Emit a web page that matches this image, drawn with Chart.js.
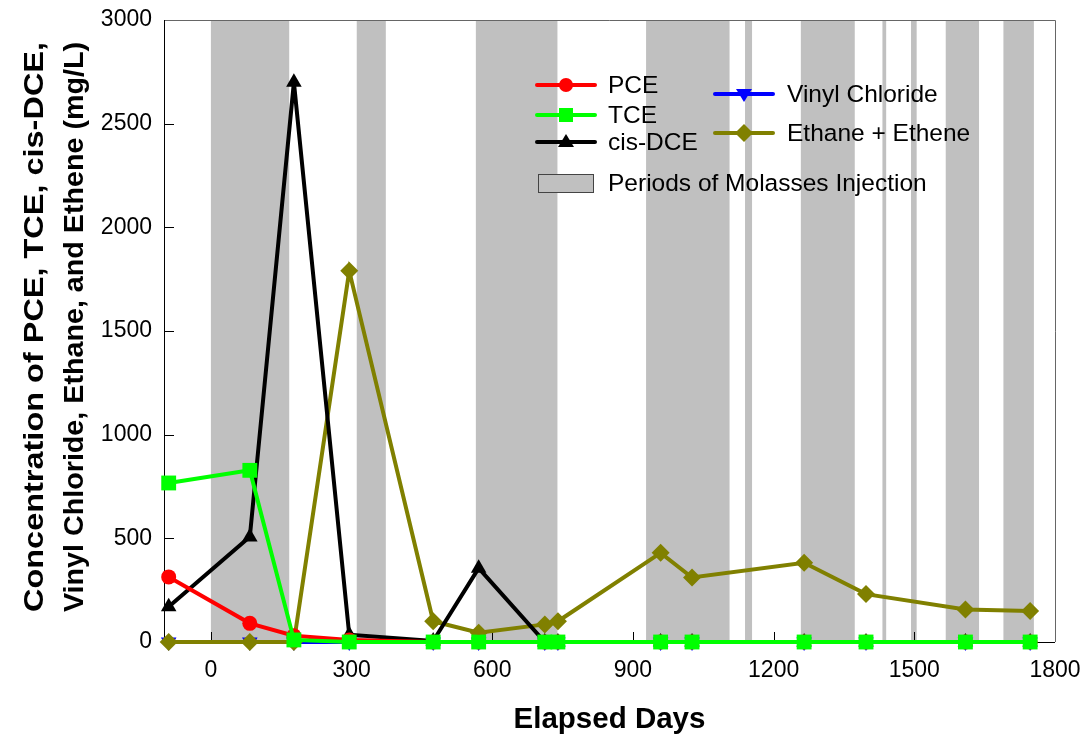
<!DOCTYPE html>
<html>
<head>
<meta charset="utf-8">
<script src="https://cdn.jsdelivr.net/npm/chart.js@4.4.1/dist/chart.umd.min.js"></script>
<style>
  html, body { margin: 0; padding: 0; background: #fff; }
  #wrap { width: 1087px; height: 738px; }
</style>
</head>
<body>
<div id="wrap"><canvas id="c" width="1087" height="738"></canvas></div>
<script>
// elapsed days of each sampling event
const days = [-90, 83, 177, 295, 474, 571, 712, 740, 959, 1026, 1265, 1397, 1609, 1747];

const pce    = [314, 90, 30, 10, 0, 0, 0, 0, 0, 0, 0, 0, 0, 0];
const tce    = [767, 828, 10, 0, 0, 0, 0, 0, 0, 0, 0, 0, 0, 0];
const cisDce = [170, 507, 2700, 35, 5, 356, 0, 0, 0, 0, 0, 0, 0, 0];
const vinyl  = [0, 0, 0, 0, 0, 0, 0, 0, 0, 0, 0, 0, 0, 0];
const ethane = [0, 0, 0, 1790, 100, 45, 85, 100, 430, 311, 382, 231, 157, 149];

// molasses injection periods [start, end] in days
const injections = [
  [0, 167], [311, 373], [565, 739], [928, 1106], [1139, 1154],
  [1258, 1373], [1432, 1440], [1493, 1505], [1567, 1638], [1690, 1755]
];

const xTicks = [0, 300, 600, 900, 1200, 1500, 1800];
const yTicks = [0, 500, 1000, 1500, 2000, 2500, 3000];

const FONT = '"Liberation Sans", Arial, sans-serif';

function pts(vals) {
  return days.map((d, i) => ({ x: d, y: vals[i] }));
}

function series(label, vals, color, style, radius, order, rot) {
  return {
    label,
    data: pts(vals),
    borderColor: color,
    backgroundColor: color,
    borderWidth: 4,
    pointStyle: style,
    pointRadius: radius,
    pointRotation: rot || 0,
    pointBorderWidth: 0,
    pointHoverRadius: radius,
    tension: 0,
    order,
  };
}

// grey bands behind the data
const bandsPlugin = {
  id: 'bands',
  beforeDatasetsDraw(chart) {
    const { ctx, chartArea: a, scales: { x } } = chart;
    ctx.save();
    ctx.fillStyle = '#c0c0c0';
    injections.forEach(([s, e]) => {
      const x0 = x.getPixelForValue(s);
      const x1 = x.getPixelForValue(e);
      ctx.fillRect(x0, a.top, x1 - x0, a.bottom - a.top);
    });
    ctx.restore();
  }
};

// draw a line of text stretched to a given length
function fitText(ctx, text, x, y, len) {
  const w = ctx.measureText(text).width;
  ctx.save();
  ctx.translate(x, y);
  ctx.scale(len / w, 1);
  ctx.fillText(text, 0, 0);
  ctx.restore();
}

// frame, inward ticks, axis titles and legend
const decorPlugin = {
  id: 'decor',
  beforeDatasetsDraw(chart) {
    const { ctx, chartArea: a, scales: { x, y } } = chart;
    ctx.save();
    ctx.lineWidth = 1;
    ctx.strokeStyle = '#000';
    yTicks.forEach(v => {
      const py = Math.round(y.getPixelForValue(v)) + 0.5;
      ctx.beginPath(); ctx.moveTo(a.left, py); ctx.lineTo(a.left + 10, py); ctx.stroke();
    });
    xTicks.forEach(v => {
      const px = Math.round(x.getPixelForValue(v)) + 0.5;
      ctx.beginPath(); ctx.moveTo(px, a.bottom); ctx.lineTo(px, a.bottom - 10); ctx.stroke();
    });
    ctx.strokeStyle = '#666';
    ctx.beginPath();
    ctx.moveTo(a.left, a.top + 0.5); ctx.lineTo(a.right + 0.5, a.top + 0.5);
    ctx.lineTo(a.right + 0.5, a.bottom);
    ctx.stroke();
    ctx.strokeStyle = '#000';
    ctx.beginPath();
    ctx.moveTo(a.left + 0.5, a.top); ctx.lineTo(a.left + 0.5, a.bottom + 0.5);
    ctx.lineTo(a.right, a.bottom + 0.5);
    ctx.stroke();
    ctx.restore();
  },
  afterDraw(chart) {
    const { ctx, chartArea: a } = chart;
    ctx.save();
    ctx.fillStyle = '#000';
    ctx.textAlign = 'center';
    ctx.textBaseline = 'middle';
    ctx.font = 'bold 29.5px ' + FONT;
    ctx.fillText('Elapsed Days', (a.left + a.right) / 2, 720);

    ctx.save();
    ctx.translate(35, 327);
    ctx.rotate(-Math.PI / 2);
    ctx.font = 'bold 28px ' + FONT;
    fitText(ctx, 'Concentration of PCE, TCE, cis-DCE,', 0, 0, 570);
    fitText(ctx, 'Vinyl Chloride, Ethane, and Ethene (mg/L)', 0, 40, 570);
    ctx.restore();

    // legend
    const items = [
      { label: 'PCE', color: '#ff0000', shape: 'circle', x: 537, y: 85 },
      { label: 'TCE', color: '#00ff00', shape: 'square', x: 537, y: 115 },
      { label: 'cis-DCE', color: '#000000', shape: 'tri', x: 537, y: 142 },
      { label: 'Vinyl Chloride', color: '#0000ff', shape: 'tridown', x: 715, y: 94 },
      { label: 'Ethane + Ethene', color: '#808000', shape: 'diamond', x: 715, y: 133 },
    ];
    ctx.font = '24.5px ' + FONT;
    ctx.textAlign = 'left';
    items.forEach(it => {
      ctx.strokeStyle = it.color;
      ctx.fillStyle = it.color;
      ctx.lineWidth = 4;
      ctx.lineCap = 'round';
      ctx.beginPath(); ctx.moveTo(it.x, it.y); ctx.lineTo(it.x + 58, it.y); ctx.stroke();
      const cx = it.x + 29, cy = it.y;
      ctx.beginPath();
      if (it.shape === 'circle') ctx.arc(cx, cy, 7, 0, Math.PI * 2);
      else if (it.shape === 'square') ctx.rect(cx - 7, cy - 7, 14, 14);
      else if (it.shape === 'tri') { ctx.moveTo(cx, cy - 8); ctx.lineTo(cx + 8, cy + 5); ctx.lineTo(cx - 8, cy + 5); }
      else if (it.shape === 'tridown') { ctx.moveTo(cx, cy + 8); ctx.lineTo(cx + 8, cy - 5); ctx.lineTo(cx - 8, cy - 5); }
      else { ctx.moveTo(cx, cy - 9); ctx.lineTo(cx + 9, cy); ctx.lineTo(cx, cy + 9); ctx.lineTo(cx - 9, cy); }
      ctx.closePath();
      ctx.fill();
      ctx.fillStyle = '#000';
      ctx.fillText(it.label, it.x === 537 ? 608 : 787, it.y + 1);
    });
    ctx.fillStyle = '#c0c0c0';
    ctx.fillRect(538, 174, 55, 18);
    ctx.strokeStyle = '#444';
    ctx.lineWidth = 1;
    ctx.strokeRect(538.5, 174.5, 55, 18);
    ctx.fillStyle = '#000';
    ctx.fillText('Periods of Molasses Injection', 608, 184);
    ctx.restore();
  }
};

function noPad(s) {
  s.paddingLeft = 0; s.paddingRight = 0; s.paddingTop = 0; s.paddingBottom = 0;
}

new Chart(document.getElementById('c'), {
  type: 'line',
  data: {
    datasets: [
      series('TCE', tce, '#00ff00', 'rect', 10.5, 0),
      series('PCE', pce, '#ff0000', 'circle', 7.5, 1),
      series('cis-DCE', cisDce, '#000000', 'triangle', 9, 2),
      series('Ethane + Ethene', ethane, '#808000', 'rectRot', 9, 3),
      series('Vinyl Chloride', vinyl, '#0000ff', 'triangle', 9, 4, 180),
    ]
  },
  options: {
    responsive: false,
    animation: false,
    clip: false,
    layout: { padding: { top: 20, right: 32, left: 0, bottom: 0 } },
    plugins: { legend: { display: false }, tooltip: { enabled: false } },
    scales: {
      x: {
        type: 'linear',
        min: -100,
        max: 1800,
        grid: { display: false, drawTicks: false },
        border: { display: false },
        afterBuildTicks: s => { s.ticks = xTicks.map(v => ({ value: v })); },
        afterFit: s => { s.height = 96; noPad(s); },
        ticks: { color: '#000', font: { family: FONT, size: 23 }, padding: 15, maxRotation: 0,
                 callback: v => String(v) },
      },
      y: {
        min: 0,
        max: 3000,
        grid: { display: false, drawTicks: false },
        border: { display: false },
        afterBuildTicks: s => { s.ticks = yTicks.map(v => ({ value: v })); },
        afterFit: s => { s.width = 164; noPad(s); },
        ticks: { color: '#000', font: { family: FONT, size: 23 }, padding: 12,
                 callback: v => String(v) },
      }
    }
  },
  plugins: [bandsPlugin, decorPlugin]
});
</script>
</body>
</html>
